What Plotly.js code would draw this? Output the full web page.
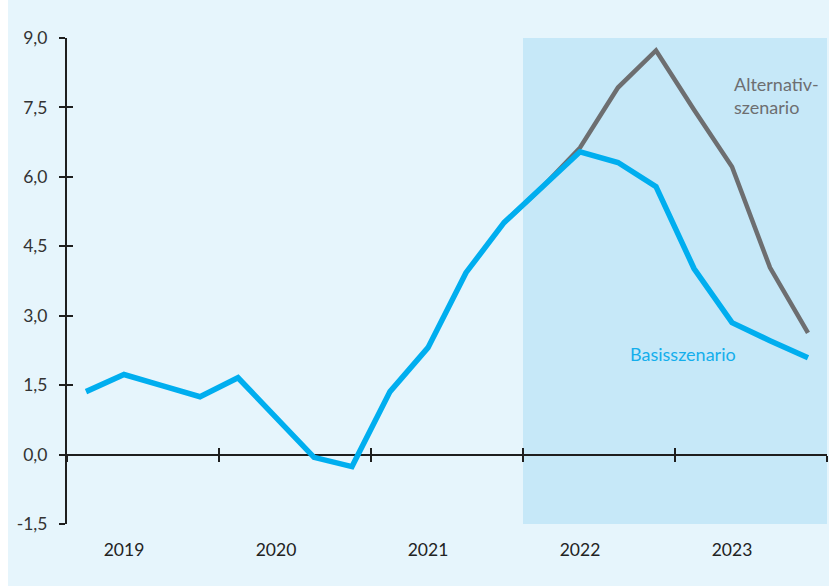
<!DOCTYPE html>
<html>
<head>
<meta charset="utf-8">
<script src="https://cdn.plot.ly/plotly-3.0.1.min.js"></script>
<style>
  html, body { margin: 0; padding: 0; background: #ffffff; }
  #chart { position: absolute; left: 8px; top: 0; width: 821px; height: 586px; }
</style>
</head>
<body>
<div id="chart"></div>
<script>
// Quarterly positions (mid-quarter), 2019 Q1 .. 2023 Q4
const years = [2019, 2020, 2021, 2022, 2023];
const quarters = [];
years.forEach(y => { for (let q = 1; q <= 4; q++) quarters.push(y + (q - 0.5) / 4); });

const baseline = [1.36, 1.73, 1.49, 1.25, 1.66, 0.80, -0.06, -0.26,
                  1.36, 2.31, 3.93, 5.01, 5.77, 6.54, 6.31, 5.79,
                  4.02, 2.85, 2.46, 2.09];
// Alternative scenario from 2021 Q4 on
const altStart = 11;
const alternative = [5.01, 5.77, 6.63, 7.93, 8.73, 7.45, 6.22, 4.04, 2.63];

const yearBoundaries = [2019, 2020, 2021, 2022, 2023, 2024];
// year labels sit under the second quarter of each year
const yearLabelPos = years.map(y => y + 0.375);
const yearLabels = years.map(String);
const yTickVals = [-1.5, 0, 1.5, 3, 4.5, 6, 7.5, 9];
const yTickLabels = ['-1,5', '0,0', '1,5', '3,0', '4,5', '6,0', '7,5', '9,0'];
const forecastSpan = [2022, 2024];
const yRange = [-1.5, 9];

const altX = quarters.slice(altStart);

const bg = '#e6f5fc';
const shade = '#c6e8f8';
const blue = '#00aeef';
const gray = '#6d6e70';
const axisColor = '#1e1e1e';
const font = 'Lato, "Open Sans", sans-serif';

const traces = [
  { x: altX, y: alternative, type: 'scatter', mode: 'lines', xaxis: 'x', yaxis: 'y',
    line: { color: gray, width: 4.5 }, hoverinfo: 'skip' },
  { x: quarters, y: baseline, type: 'scatter', mode: 'lines', xaxis: 'x', yaxis: 'y',
    line: { color: blue, width: 5.5 }, hoverinfo: 'skip' },
  { x: [null], y: [null], type: 'scatter', xaxis: 'x2', yaxis: 'y', showlegend: false },
  { x: [null], y: [null], type: 'scatter', xaxis: 'x3', yaxis: 'y', showlegend: false },
  { x: [null], y: [null], type: 'scatter', xaxis: 'x', yaxis: 'y2', showlegend: false }
];

const zeroPos = (0 - yRange[0]) / (yRange[1] - yRange[0]);

const freeX = (ticks) => ({
  overlaying: 'x', anchor: 'free', position: zeroPos,
  range: [2019, 2024], showline: true, linecolor: axisColor, linewidth: 2,
  ticks: ticks, ticklen: 6, tickwidth: 2, tickcolor: axisColor,
  tickvals: yearBoundaries, showticklabels: false,
  showgrid: false, zeroline: false, layer: 'below traces'
});

const layout = {
  width: 821, height: 586,
  margin: { l: 59, r: 2, t: 38, b: 62 },
  paper_bgcolor: bg, plot_bgcolor: bg,
  showlegend: false,
  font: { family: font, size: 17, color: '#2b2b2b' },
  xaxis: {
    range: [2019, 2024], showline: false, showgrid: false, zeroline: false,
    tickmode: 'array', tickvals: yearLabelPos, ticktext: yearLabels,
    ticks: '', ticklabelstandoff: 13,
    tickfont: { family: font, size: 17.5, color: '#222222' }
  },
  xaxis2: freeX('outside'),
  xaxis3: freeX('inside'),
  yaxis: {
    range: yRange, tickmode: 'array', tickvals: yTickVals, ticktext: yTickLabels,
    showline: true, linecolor: axisColor, linewidth: 2,
    ticks: 'outside', ticklen: 6, tickwidth: 2, tickcolor: axisColor,
    showgrid: false, zeroline: false, layer: 'below traces',
    ticklabelstandoff: 8,
    tickfont: { family: font, size: 17.5, color: '#333333' }
  },
  yaxis2: {
    overlaying: 'y', anchor: 'x', side: 'left', range: yRange,
    tickmode: 'array', tickvals: yTickVals,
    showline: false, ticks: 'inside', ticklen: 6, tickwidth: 2, tickcolor: axisColor,
    showticklabels: false, showgrid: false, zeroline: false, layer: 'below traces'
  },
  shapes: [{
    type: 'rect', xref: 'x', yref: 'y', layer: 'below',
    x0: forecastSpan[0], x1: forecastSpan[1], y0: yRange[0], y1: yRange[1],
    fillcolor: shade, line: { width: 0 }
  }],
  annotations: [
    { x: 2023.375, y: 7.75, xref: 'x', yref: 'y', xanchor: 'left', yanchor: 'middle',
      align: 'left', showarrow: false, text: 'Alternativ-<br>szenario',
      font: { family: font, size: 18, color: gray } },
    { x: 2022.69, y: 2.18, xref: 'x', yref: 'y', xanchor: 'left', yanchor: 'middle',
      align: 'left', showarrow: false, text: 'Basisszenario',
      font: { family: font, size: 18, color: '#14aeec' } }
  ]
};

Plotly.newPlot('chart', traces, layout, { staticPlot: true, displayModeBar: false });
</script>
</body>
</html>
